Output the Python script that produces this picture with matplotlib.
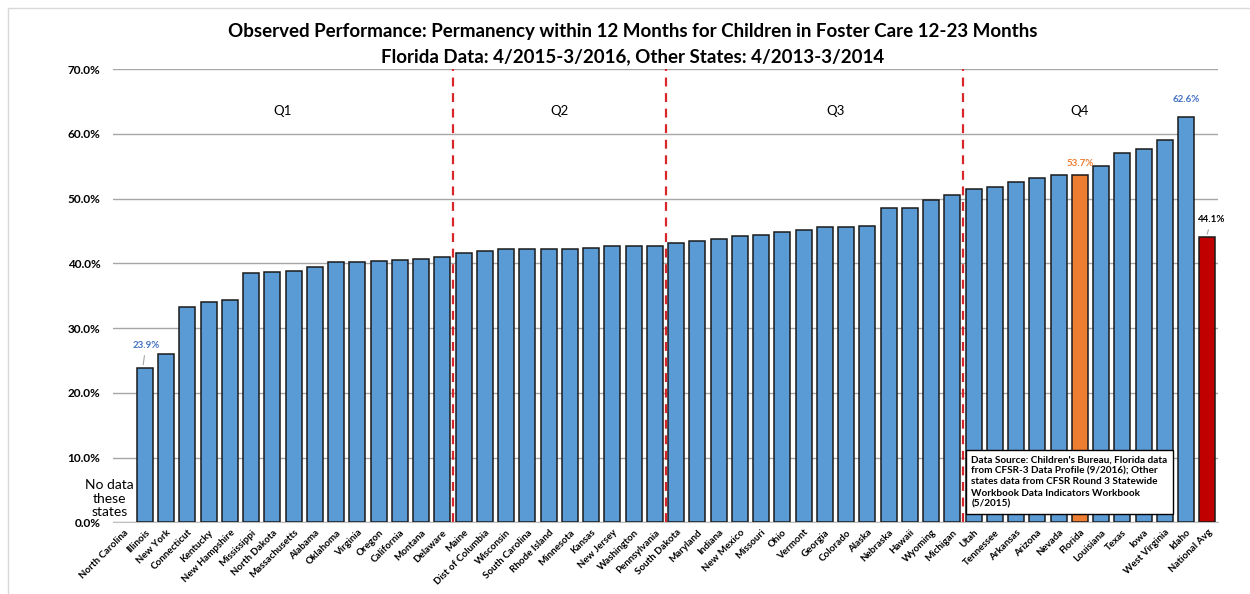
import numpy as np
import matplotlib.pyplot as plt
from matplotlib.ticker import FuncFormatter
from matplotlib.patches import Rectangle

plt.rcParams['font.family'] = ['Lato', 'DejaVu Sans']

states = ["North Carolina", "Illinois", "New York", "Connecticut", "Kentucky",
          "New Hampshire", "Mississippi", "North Dakota", "Massachusetts", "Alabama",
          "Oklahoma", "Virginia", "Oregon", "California", "Montana", "Delaware",
          "Maine", "Dist of Columbia", "Wisconsin", "South Carolina", "Rhode Island",
          "Minnesota", "Kansas", "New Jersey", "Washington", "Pennsylvania",
          "South Dakota", "Maryland", "Indiana", "New Mexico", "Missouri", "Ohio",
          "Vermont", "Georgia", "Colorado", "Alaska", "Nebraska", "Hawaii", "Wyoming",
          "Michigan", "Utah", "Tennessee", "Arkansas", "Arizona", "Nevada", "Florida",
          "Louisiana", "Texas", "Iowa", "West Virginia", "Idaho", "National Avg"]

values = [np.nan, 23.9, 26.0, 33.2, 34.0,
          34.3, 38.5, 38.6, 38.8, 39.5,
          40.2, 40.2, 40.4, 40.5, 40.7, 40.9,
          41.6, 41.9, 42.2, 42.2, 42.2,
          42.2, 42.3, 42.6, 42.6, 42.6,
          43.2, 43.5, 43.7, 44.2, 44.4, 44.9,
          45.2, 45.6, 45.6, 45.7, 48.5, 48.5, 49.8,
          50.5, 51.4, 51.8, 52.5, 53.1, 53.7, 53.7,
          55.0, 57.0, 57.7, 59.1, 62.6, 44.1]

quartiles = ["Q1", "Q2", "Q3", "Q4"]
q_breaks = [15.5, 25.5, 39.5]   # between Delaware/Maine, Pennsylvania/South Dakota, Michigan/Utah
q_centers = [7.5, 20.5, 33.5, 45.0]

blue = "#5B9BD5"
colors = [blue] * len(states)
colors[states.index("Florida")] = "#ED7D31"
colors[states.index("National Avg")] = "#C00000"

fig = plt.figure(figsize=(12.5, 5.94), dpi=100)
ax = fig.add_axes([0.0904, 0.1207, 0.8840, 0.7631])

x = np.arange(len(states))
ax.bar(x, values, width=0.75, color=colors, edgecolor="#1a1a1a", linewidth=1.1, zorder=3)

ax.set_xlim(-0.5, len(states) - 0.5)
ax.set_ylim(0, 70)
ax.set_yticks(np.arange(0, 71, 10))
ax.yaxis.set_major_formatter(FuncFormatter(lambda v, p: f"{v:.1f}%"))
ax.grid(axis="y", color="#a6a6a6", linewidth=1, zorder=0)
ax.tick_params(axis="y", length=0, pad=9, labelsize=8.5)
for lab in ax.get_yticklabels():
    lab.set_fontweight("bold")

ax.set_xticks(x)
ax.set_xticklabels(states, rotation=45, ha="right", rotation_mode="anchor",
                   fontsize=7, fontweight="bold")
ax.tick_params(axis="x", length=0, pad=4)

for s in ["top", "right", "left"]:
    ax.spines[s].set_visible(False)
ax.spines["bottom"].set_color("#bfbfbf")

for b in q_breaks:
    ax.axvline(b, color="#D9262B", linestyle=(0, (4, 3)), linewidth=1.6, zorder=4)

for q, c in zip(quartiles, q_centers):
    ax.text(c, 63.5, q, ha="center", va="center", fontsize=9.5)

# data labels
i = states.index("Illinois")
ax.annotate("23.9%", xy=(i - 0.1, values[i]), xytext=(i + 0.05, values[i] + 3.4),
            ha="center", va="center", fontsize=7, color="#4472C4", fontweight="bold",
            arrowprops=dict(arrowstyle="-", color="#a6a6a6", lw=0.8))
i = states.index("Florida")
ax.text(i, values[i] + 1.7, "53.7%", ha="center", va="center", fontsize=7,
        color="#ED7D31", fontweight="bold")
i = states.index("Idaho")
ax.text(i, values[i] + 2.7, "62.6%", ha="center", va="center", fontsize=7,
        color="#4472C4", fontweight="bold")
i = states.index("National Avg")
ax.annotate("44.1%", xy=(i - 0.05, values[i]), xytext=(i + 0.2, values[i] + 2.6),
            ha="center", va="center", fontsize=7, color="black", fontweight="bold",
            arrowprops=dict(arrowstyle="-", color="#a6a6a6", lw=0.8))

ax.text(-0.65, 3.6, "No data\nthese\nstates", ha="center", va="center",
        fontsize=10, linespacing=1.15, zorder=5)

# source note box
fig.text(0.777, 0.1435,
         "Data Source: Children's Bureau, Florida data\n"
         "from CFSR-3 Data Profile (9/2016); Other\n"
         "states data from CFSR Round 3 Statewide\n"
         "Workbook Data Indicators Workbook\n"
         "(5/2015)",
         ha="left", va="bottom", fontsize=7.2, fontweight="bold", linespacing=1.3,
         bbox=dict(boxstyle="square,pad=0.5", facecolor="white", edgecolor="black", lw=1),
         zorder=10)

fig.text(0.506, 0.947, "Observed Performance: Permanency within 12 Months for Children in Foster Care 12-23 Months",
         ha="center", va="center", fontsize=13.5, fontweight="bold")
fig.text(0.506, 0.905, "Florida Data: 4/2015-3/2016, Other States: 4/2013-3/2014",
         ha="center", va="center", fontsize=13.5, fontweight="bold")

fig.patches.append(Rectangle((0.006, -0.01), 1.1, 0.997, transform=fig.transFigure,
                             fill=False, edgecolor="#d9d9d9", lw=1))

fig.savefig("out.png", dpi=100)
